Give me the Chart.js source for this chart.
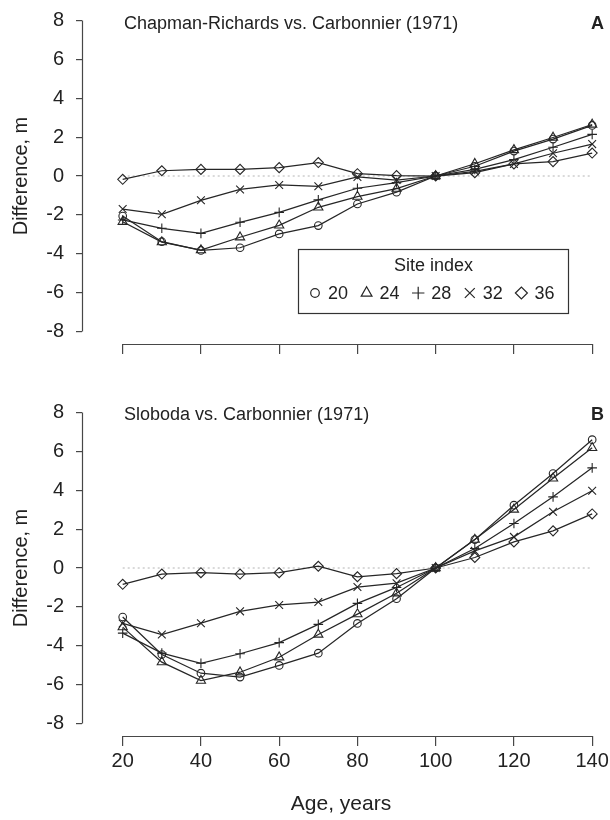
<!DOCTYPE html>
<html>
<head>
<meta charset="utf-8">
<title>Height difference by age and site index</title>
<script src="https://cdn.jsdelivr.net/npm/chart.js@4.4.1/dist/chart.umd.min.js"></script>
<style>
  body { margin: 0; background: #fff; }
  #wrap { position: relative; width: 610px; height: 820px; }
  canvas { position: absolute; left: 0; }
  #chartA { top: 0; }
  #chartB { top: 390px; }
</style>
</head>
<body>
<div id="wrap">
  <canvas id="chartA" width="610" height="390"></canvas>
  <canvas id="chartB" width="610" height="430"></canvas>
</div>
<script>
// ages (years) and tick marks
const ages = [20, 30, 40, 50, 60, 70, 80, 90, 100, 110, 120, 130, 140];
const xTicks = [20, 40, 60, 80, 100, 120, 140];
const yTicks = [-8, -6, -4, -2, 0, 2, 4, 6, 8];
const siteIndex = ['20', '24', '28', '32', '36'];
const markers = ['circle', 'triangle', 'cross', 'crossRot', 'rectRot'];

// A: Chapman-Richards vs. Carbonnier (1971)
const crSI20 = [-2.06, -3.38, -3.83, -3.69, -2.98, -2.55, -1.44, -0.83, 0, 0.50, 1.28, 1.90, 2.60];
const crSI24 = [-2.35, -3.40, -3.81, -3.15, -2.54, -1.61, -1.06, -0.65, 0, 0.63, 1.34, 1.98, 2.65];
const crSI28 = [-2.26, -2.69, -2.95, -2.38, -1.87, -1.23, -0.63, -0.34, 0, 0.34, 0.84, 1.48, 2.14];
const crSI32 = [-1.70, -1.97, -1.25, -0.69, -0.46, -0.53, -0.05, -0.21, 0, 0.24, 0.62, 1.17, 1.64];
const crSI36 = [-0.17, 0.27, 0.34, 0.34, 0.43, 0.69, 0.12, 0.02, 0, 0.17, 0.62, 0.74, 1.18];

// B: Sloboda vs. Carbonnier (1971)
const slSI20 = [-2.52, -4.45, -5.41, -5.61, -5.01, -4.38, -2.85, -1.58, 0, 1.46, 3.23, 4.86, 6.60];
const slSI24 = [-3.04, -4.84, -5.79, -5.36, -4.59, -3.42, -2.37, -1.30, 0, 1.46, 3.01, 4.61, 6.18];
const slSI28 = [-3.35, -4.38, -4.90, -4.41, -3.84, -2.90, -1.82, -1.00, 0, 1.00, 2.29, 3.66, 5.15];
const slSI32 = [-2.85, -3.42, -2.84, -2.23, -1.90, -1.75, -0.98, -0.78, 0, 0.88, 1.60, 2.89, 3.97];
const slSI36 = [-0.84, -0.31, -0.24, -0.31, -0.24, 0.09, -0.45, -0.29, 0, 0.54, 1.34, 1.91, 2.78];

const crSeries = [crSI20, crSI24, crSI28, crSI32, crSI36];
const slSeries = [slSI20, slSI24, slSI28, slSI32, slSI36];

const FONT = "'Liberation Sans', Arial, sans-serif";
const textColor = '#222';
const lineColor = '#262626';
const axisColor = '#474747';
const markerSize = [3.8, 5.3, 4.8, 5.5, 5];
const legendSize = [4.3, 6.2, 6.2, 7, 6];

Chart.defaults.font.family = FONT;
Chart.defaults.color = textColor;

// axis lines (R style, only between first and last tick), panel titles, legend
const panelText = {
  id: 'panelText',
  afterDraw(chart, args, opts) {
    const { ctx, scales: { x, y } } = chart;
    ctx.save();
    ctx.strokeStyle = axisColor;
    ctx.lineWidth = 1.2;
    ctx.beginPath();
    const ax = Math.round(x.left) + 0.5;
    const ay = Math.round(y.bottom) + 0.5;
    ctx.moveTo(ax, y.getPixelForValue(yTicks[0]));
    ctx.lineTo(ax, y.getPixelForValue(yTicks[yTicks.length - 1]));
    ctx.moveTo(x.getPixelForValue(xTicks[0]), ay);
    ctx.lineTo(x.getPixelForValue(xTicks[xTicks.length - 1]), ay);
    ctx.stroke();

    ctx.fillStyle = textColor;
    ctx.textBaseline = 'middle';
    ctx.font = '18px ' + FONT;
    ctx.textAlign = 'left';
    ctx.fillText(opts.title, 124, opts.titleY);
    ctx.font = 'bold 18px ' + FONT;
    ctx.textAlign = 'right';
    ctx.fillText(opts.letter, 604, opts.titleY);

    if (opts.legend) {
      ctx.strokeStyle = '#333';
      ctx.lineWidth = 1.2;
      ctx.strokeRect(298.5, 249.5, 270, 64);
      ctx.font = '18px ' + FONT;
      ctx.textAlign = 'center';
      ctx.fillText('Site index', 433.5, 266);
      ctx.textAlign = 'left';
      ctx.strokeStyle = lineColor;
      ctx.fillStyle = 'rgba(0,0,0,0)';
      siteIndex.forEach((s, i) => {
        const cx = 315 + i * 51.6;
        Chart.helpers.drawPoint(ctx, { pointStyle: markers[i], radius: legendSize[i], rotation: 0, borderWidth: 1.1 }, cx, 293);
      });
      ctx.fillStyle = textColor;
      siteIndex.forEach((s, i) => {
        ctx.fillText(s, 315 + i * 51.6 + 13, 294);
      });
    }
    ctx.restore();
  }
};

function makePanel(id, series, title, letter, titleY, padTop, xHeight, showX, legend) {
  const datasets = series.map((vals, i) => ({
    label: siteIndex[i],
    data: ages.map((a, j) => ({ x: a, y: vals[j] })),
    borderColor: lineColor,
    borderWidth: 1.25,
    pointStyle: markers[i],
    pointRadius: markerSize[i],
    pointBorderColor: lineColor,
    pointBorderWidth: 1.1,
    pointBackgroundColor: 'rgba(0,0,0,0)',
    tension: 0,
    order: 0
  }));
  datasets.push({
    label: 'zero',
    data: [{ x: ages[0], y: 0 }, { x: ages[ages.length - 1], y: 0 }],
    borderColor: '#b4b4b4',
    borderWidth: 1,
    borderDash: [2, 3],
    pointRadius: 0,
    order: 10
  });

  return new Chart(document.getElementById(id), {
    type: 'line',
    data: { datasets },
    options: {
      responsive: false,
      animation: false,
      devicePixelRatio: 1,
      layout: { padding: { top: padTop, left: 0, right: 10, bottom: 0 } },
      plugins: {
        legend: { display: false },
        tooltip: { enabled: false },
        panelText: { title, letter, titleY, legend }
      },
      scales: {
        x: {
          type: 'linear',
          min: 9.6,
          max: 142,
          afterBuildTicks: s => { s.ticks = xTicks.map(v => ({ value: v })); },
          afterFit: s => { s.height = xHeight; s.paddingLeft = 0; s.paddingRight = 0; },
          border: { display: false },
          grid: { drawOnChartArea: false, tickLength: 10, color: axisColor, lineWidth: 1.2 },
          ticks: { display: showX, color: textColor, font: { size: 20 }, padding: 3, maxRotation: 0, autoSkip: false },
          title: { display: showX, text: 'Age, years', color: textColor, font: { size: 21 }, padding: { top: 0, bottom: 3 } }
        },
        y: {
          type: 'linear',
          min: -8.64,
          max: 8.64,
          afterBuildTicks: s => { s.ticks = yTicks.map(v => ({ value: v })); },
          afterFit: s => { s.width = 82; s.paddingTop = 0; s.paddingBottom = 0; },
          border: { display: false },
          grid: { drawOnChartArea: false, tickLength: 6, color: axisColor, lineWidth: 1.2 },
          ticks: { color: textColor, font: { size: 20 }, padding: 12 },
          title: { display: true, text: 'Difference, m', color: textColor, font: { size: 20 }, padding: { top: 9, bottom: 0 } }
        }
      }
    },
    plugins: [panelText]
  });
}

makePanel('chartA', crSeries, 'Chapman-Richards vs. Carbonnier (1971)', 'A', 24, 8, 46, false, true);
makePanel('chartB', slSeries, 'Sloboda vs. Carbonnier (1971)', 'B', 25, 10, 84, true, false);
</script>
</body>
</html>
